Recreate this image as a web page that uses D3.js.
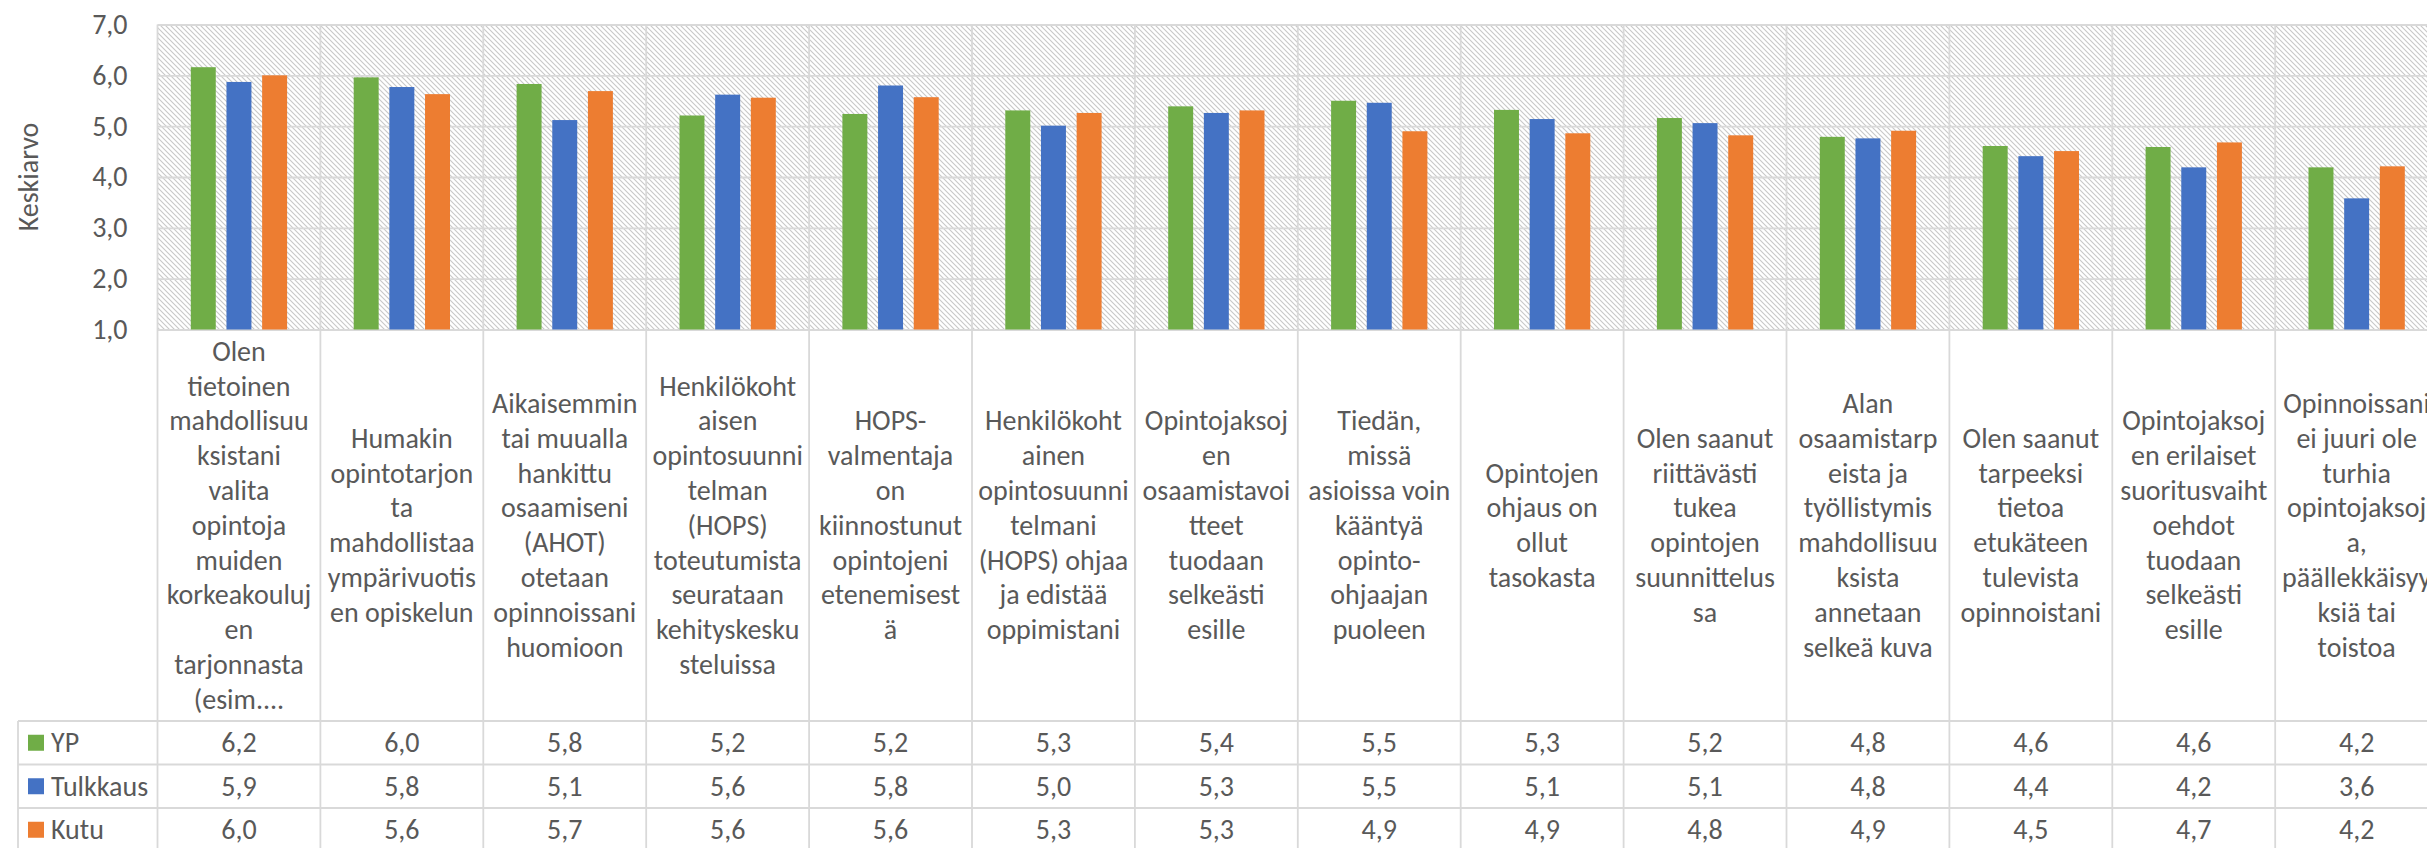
<!DOCTYPE html>
<html>
<head>
<meta charset="utf-8">
<script src="https://cdn.jsdelivr.net/npm/d3@7/dist/d3.min.js"></script>
<style>
  body { margin: 0; overflow: hidden; background: #fff; }
  text { font-family: Calibri, Carlito, Lato, sans-serif; fill: #595959; }
</style>
</head>
<body>
<div id="chart"></div>
<script>
// category labels, "|" marks the line breaks as wrapped in the chart
var categories = [
  "Olen|tietoinen|mahdollisuu|ksistani|valita|opintoja|muiden|korkeakouluj|en|tarjonnasta|(esim....",
  "Humakin|opintotarjon|ta|mahdollistaa|ympärivuotis|en opiskelun",
  "Aikaisemmin|tai muualla|hankittu|osaamiseni|(AHOT)|otetaan|opinnoissani|huomioon",
  "Henkilökoht|aisen|opintosuunni|telman|(HOPS)|toteutumista|seurataan|kehityskesku|steluissa",
  "HOPS-|valmentaja|on|kiinnostunut|opintojeni|etenemisest|ä",
  "Henkilökoht|ainen|opintosuunni|telmani|(HOPS) ohjaa|ja edistää|oppimistani",
  "Opintojaksoj|en|osaamistavoi|tteet|tuodaan|selkeästi|esille",
  "Tiedän,|missä|asioissa voin|kääntyä|opinto-|ohjaajan|puoleen",
  "Opintojen|ohjaus on|ollut|tasokasta",
  "Olen saanut|riittävästi|tukea|opintojen|suunnittelus|sa",
  "Alan|osaamistarp|eista ja|työllistymis|mahdollisuu|ksista|annetaan|selkeä kuva",
  "Olen saanut|tarpeeksi|tietoa|etukäteen|tulevista|opinnoistani",
  "Opintojaksoj|en erilaiset|suoritusvaiht|oehdot|tuodaan|selkeästi|esille",
  "Opinnoissani|ei juuri ole|turhia|opintojaksoj|a,|päällekkäisyy|ksiä tai|toistoa"
];

var seriesNames = ["YP", "Tulkkaus", "Kutu"];
var ypValues       = [6.16, 5.96, 5.83, 5.21, 5.24, 5.31, 5.39, 5.50, 5.32, 5.16, 4.79, 4.61, 4.59, 4.19];
var tulkkausValues = [5.87, 5.77, 5.12, 5.62, 5.80, 5.01, 5.26, 5.46, 5.14, 5.06, 4.76, 4.41, 4.19, 3.58];
var kutuValues     = [6.00, 5.63, 5.69, 5.56, 5.57, 5.26, 5.31, 4.90, 4.86, 4.82, 4.91, 4.51, 4.68, 4.21];
var yTicks = [1, 2, 3, 4, 5, 6, 7];
var yLabel = "Keskiarvo";

var colors = ["#70AD47", "#4472C4", "#ED7D31"];
var allValues = [ypValues, tulkkausValues, kutuValues];

var svgWidth = 2427;
var svgHeight = 848;
var plotLeft = 157.5;
var plotTop = 24.5;
var plotBottom = 329.5;
var catWidth = 162.9;
var plotRight = plotLeft + categories.length * catWidth;
var tableTop = 721;
var rowHeight = 43.5;
var tableLeft = 18;
var gridColor = "#d9d9d9";

var fmt = function(v) { return d3.format(".1f")(v).replace(".", ","); };

var svg = d3.select("#chart")
  .append("svg")
  .attr("width", svgWidth)
  .attr("height", svgHeight);

// hatched plot background
var defs = svg.append("defs");
var pat = defs.append("pattern")
  .attr("id", "hatch")
  .attr("patternUnits", "userSpaceOnUse")
  .attr("width", 5)
  .attr("height", 5);
pat.append("rect").attr("width", 5).attr("height", 5).attr("fill", "#fff");
pat.append("path")
  .attr("d", "M0,0 L5,5 M-1,4 L1,6 M4,-1 L6,1")
  .attr("stroke", "#c8c8c8")
  .attr("stroke-width", 1.1);

var x0 = d3.scaleBand()
  .domain(d3.range(categories.length))
  .range([plotLeft, plotRight])
  .padding(0);

var x1 = d3.scaleBand()
  .domain(seriesNames)
  .range([33.3, 129.6])
  .paddingInner(0.3);

var y = d3.scaleLinear()
  .domain([1, 7])
  .range([plotBottom, plotTop]);

svg.append("rect")
  .attr("x", plotLeft)
  .attr("y", plotTop)
  .attr("width", plotRight - plotLeft)
  .attr("height", plotBottom - plotTop)
  .attr("fill", "url(#hatch)");

// y axis with gridlines
var yAxis = svg.append("g")
  .attr("transform", `translate(${plotLeft},0)`)
  .call(d3.axisLeft(y)
    .tickValues(yTicks)
    .tickSize(-(plotRight - plotLeft))
    .tickPadding(30)
    .tickFormat(fmt));
yAxis.select(".domain").remove();
yAxis.selectAll("line").attr("stroke", gridColor).attr("stroke-width", 1.8);
yAxis.selectAll("text")
  .style("font-size", "28px")
  .style("font-family", "Calibri, Carlito, Lato, sans-serif")
  .attr("fill", "#595959");

svg.append("text")
  .attr("transform", "translate(38,177) rotate(-90)")
  .attr("text-anchor", "middle")
  .style("font-size", "28px")
  .text(yLabel);

// vertical category lines, through plot and table
var bounds = d3.range(categories.length + 1).map(i => plotLeft + i * catWidth);
svg.append("g").selectAll("line")
  .data(bounds)
  .enter()
  .append("line")
  .attr("x1", d => d).attr("x2", d => d)
  .attr("y1", plotTop).attr("y2", svgHeight + 10)
  .attr("stroke", gridColor)
  .attr("stroke-width", 1.8);

// table borders
svg.append("line")
  .attr("x1", tableLeft).attr("x2", tableLeft)
  .attr("y1", tableTop).attr("y2", svgHeight + 10)
  .attr("stroke", gridColor).attr("stroke-width", 1.8);

svg.append("g").selectAll("line")
  .data(d3.range(seriesNames.length + 1))
  .enter()
  .append("line")
  .attr("x1", tableLeft).attr("x2", plotRight)
  .attr("y1", d => tableTop + d * rowHeight)
  .attr("y2", d => tableTop + d * rowHeight)
  .attr("stroke", gridColor).attr("stroke-width", 1.8);

// bars
var catGroups = svg.append("g").selectAll("g")
  .data(categories)
  .enter()
  .append("g")
  .attr("transform", (d, i) => `translate(${x0(i)},0)`);

catGroups.selectAll("rect")
  .data((d, i) => seriesNames.map((s, j) => ({ series: s, idx: j, value: allValues[j][i] })))
  .enter()
  .append("rect")
  .attr("x", d => x1(d.series))
  .attr("y", d => y(d.value))
  .attr("width", x1.bandwidth())
  .attr("height", d => y(1) - y(d.value))
  .attr("fill", d => colors[d.idx]);

// category labels
var lineHeight = 34.8;
var labelCenter = (plotBottom + tableTop) / 2;
catGroups.append("text")
  .attr("text-anchor", "middle")
  .style("font-size", "28px")
  .each(function(d) {
    var lines = d.split("|");
    var t = d3.select(this);
    lines.forEach(function(line, k) {
      t.append("tspan")
        .attr("x", x0.bandwidth() / 2)
        .attr("y", labelCenter + (k - (lines.length - 1) / 2) * lineHeight)
        .attr("dominant-baseline", "central")
        .text(line);
    });
  });

// data table rows
seriesNames.forEach(function(name, j) {
  var rowMid = tableTop + j * rowHeight + rowHeight / 2;
  svg.append("rect")
    .attr("x", 28)
    .attr("y", rowMid - 8)
    .attr("width", 16)
    .attr("height", 16)
    .attr("fill", colors[j]);
  svg.append("text")
    .attr("x", 51)
    .attr("y", rowMid)
    .attr("dominant-baseline", "central")
    .style("font-size", "28px")
    .text(name);
  svg.append("g").selectAll("text")
    .data(allValues[j])
    .enter()
    .append("text")
    .attr("x", (d, i) => x0(i) + x0.bandwidth() / 2)
    .attr("y", rowMid)
    .attr("text-anchor", "middle")
    .attr("dominant-baseline", "central")
    .style("font-size", "28px")
    .text(d => fmt(d));
});
</script>
</body>
</html>
